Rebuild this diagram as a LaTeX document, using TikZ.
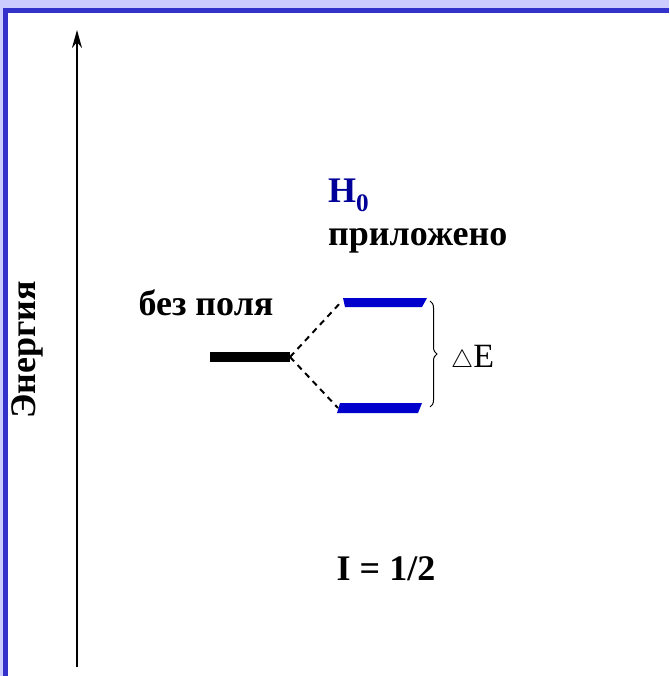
\documentclass[tikz,border=0pt]{standalone}
\usepackage{fontspec}
\setmainfont{Liberation Serif}
\usetikzlibrary{decorations.pathreplacing,arrows.meta}
\definecolor{lav}{RGB}{204,204,255}
\definecolor{frameblue}{RGB}{51,51,204}
\definecolor{levelblue}{RGB}{0,0,204}
\definecolor{hblue}{RGB}{0,0,153}
\begin{document}
\begin{tikzpicture}[x=1pt,y=-1pt,
  lbl/.style={font=\bfseries\fontsize{36}{40}\selectfont, inner sep=0pt},
  dashline/.style={line width=2pt, dash pattern=on 6pt off 5pt},
  level/.style={fill=levelblue}]
\useasboundingbox (0,0) rectangle (669,676);
\fill[lav] (0,0) rectangle (669,676);
\fill[frameblue] (3,8) rectangle (669,676);
\fill[white] (8,13) rectangle (669,676);
% energy axis
\coordinate (abot) at (77,667);
\coordinate (atop) at (77,30);
\draw[line width=2pt, -{Stealth[length=18pt,width=10pt]}] (abot) -- (atop);
\node[lbl, rotate=90] (energy) at (27,350) {Энергия};
% labels
\node[lbl, anchor=base] (nofield) at (206,315) {без поля};
\node[lbl, anchor=base west, text=hblue] (h0) at (328,203) {H$_{\mathbf{0}}$};
\node[lbl, anchor=base west] (applied) at (328,245) {приложено};
\node[lbl, anchor=base] (spin) at (386,580) {I = 1/2};
% levels
\fill[black] (210,352) rectangle (290,362);
\fill[level] (343,298) -- (427,298) -- (422,307) -- (345,307) -- cycle;
\fill[level] (340,403) -- (422,403) -- (418,413) -- (337,413) -- cycle;
\coordinate (split) at (290,357);
\coordinate (up) at (342,301);
\coordinate (lo) at (338,408);
\draw[dashline] (split) -- (up);
\draw[dashline] (split) -- (lo);
% brace and label
\coordinate (bt) at (430,301);
\coordinate (bb) at (430,407);
\draw[decorate, decoration={brace, amplitude=7pt}, line width=1pt] (bt) -- (bb);
\node[font=\fontsize{34}{36}\selectfont, anchor=west, inner sep=0pt] (dE) at (451,359) {$\triangle$E};
\end{tikzpicture}
\end{document}
